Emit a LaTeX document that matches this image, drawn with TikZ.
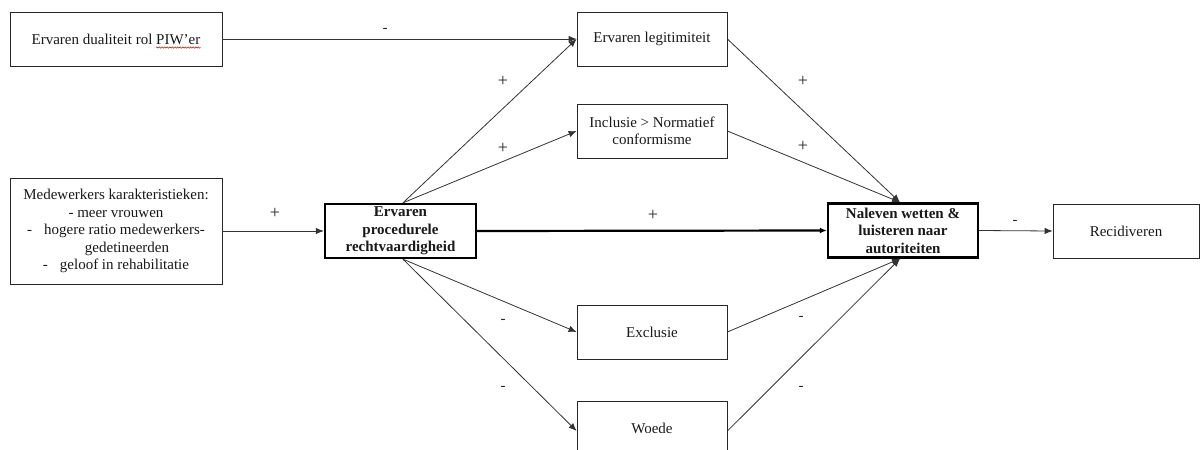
\documentclass[tikz,border=0pt]{standalone}
\usepackage{fontspec}
\setmainfont{Liberation Serif}
\usetikzlibrary{arrows.meta,decorations.pathmorphing}
\tikzset{
  box/.style={draw=black!85, line width=0.8pt, inner sep=0pt, align=center,
    font=\fontsize{15}{17.5}\selectfont, text=black!90},
  boldbox/.style={box, draw=black, line width=2.4pt, font=\fontsize{15}{17.5}\selectfont\bfseries},
  conn/.style={draw=black!80, line width=0.8pt, -{Latex[length=8pt,width=6.5pt]}},
  thickconn/.style={draw=black, line width=2.2pt, -{Latex[length=7pt,width=6pt]}},
  lbl/.style={font=\fontsize{18}{20}\selectfont, text=black!85, inner sep=0pt},
  mlbl/.style={font=\fontsize{15}{17}\selectfont, text=black!85, inner sep=0pt},
  txt/.style={font=\fontsize{15}{17.5}\selectfont, text=black!90, inner sep=0pt}
}
\begin{document}
\begin{tikzpicture}[x=1pt,y=-1pt]
\clip (0,0) rectangle (1200,450);
\fill[white] (0,0) rectangle (1200,450);

% boxes
\node[box, minimum width=212pt, minimum height=54pt] (A) at (116,39) {};
\node[txt] (At) at (A.center) {Ervaren dualiteit rol \phantom{PIW’er}};
\node[txt, anchor=base east] (Ap) at (At.base east) {PIW’er};
\draw[red!85!black, line width=0.5pt, decorate, decoration={snake, amplitude=0.7pt, segment length=2.6pt}]
  ([yshift=-3pt]Ap.south west) -- ([yshift=-3pt]Ap.south east);

\node[box, minimum width=150pt, minimum height=54pt] (B) at (652,39) {Ervaren legitimiteit};
\node[box, minimum width=150pt, minimum height=54pt] (C) at (652,131) {Inclusie > Normatief\\conformisme};
\node[box, minimum width=212pt, minimum height=106pt] (D) at (116,231)
  {Medewerkers karakteristieken:\\- meer vrouwen\\-\hspace{12pt}hogere ratio medewerkers-\\\hspace{22pt}gedetineerden\\-\hspace{12pt}geloof in rehabilitatie};
\node[boldbox, minimum width=151pt, minimum height=54pt] (E) at (400.5,231) {Ervaren\\procedurele\\rechtvaardigheid};
\node[boldbox, minimum width=150pt, minimum height=54pt] (F) at (903,230.5) {Naleven wetten \&\\luisteren naar\\autoriteiten};
\node[box, minimum width=146pt, minimum height=54pt] (G) at (1126,231) {Recidiveren};
\node[box, minimum width=150pt, minimum height=54pt] (H) at (652,332) {Exclusie};
\node[box, minimum width=150pt, minimum height=54pt] (I) at (652,428) {Woede};

% connectors
\draw[conn] (A.east) -- (B.west);
\draw[conn] ([xshift=2.5pt]E.north) -- (B.west);
\draw[conn] ([xshift=2.5pt]E.north) -- (C.west);
\draw[conn] (D.east) -- (E.west);
\draw[thickconn] (E.east) -- (F.west);
\draw[conn] (F.east) -- (G.west);
\draw[conn] (B.east) -- ([xshift=-3pt]F.north);
\draw[conn] (C.east) -- ([xshift=-3pt]F.north);
\draw[conn] ([xshift=2.5pt]E.south) -- (H.west);
\draw[conn] ([xshift=2.5pt]E.south) -- ([yshift=-3pt]I.west);
\draw[conn] (H.east) -- ([xshift=-3pt]F.south);
\draw[conn] ([yshift=-3pt]I.east) -- ([xshift=-3pt]F.south);

% labels
\node[mlbl] (l1) at (385,30) {-};
\node[lbl] (l2) at (503,81) {+};
\node[lbl] (l3) at (503,148) {+};
\node[lbl] (l4) at (275,213) {+};
\node[lbl] (l5) at (653,215) {+};
\node[mlbl] (l6) at (1015,222) {-};
\node[lbl] (l7) at (803,81) {+};
\node[lbl] (l8) at (803,146) {+};
\node[mlbl] (l9) at (503,321) {-};
\node[mlbl] (l10) at (503,388) {-};
\node[mlbl] (l11) at (801,318) {-};
\node[mlbl] (l12) at (801,388) {-};
\end{tikzpicture}
\end{document}
